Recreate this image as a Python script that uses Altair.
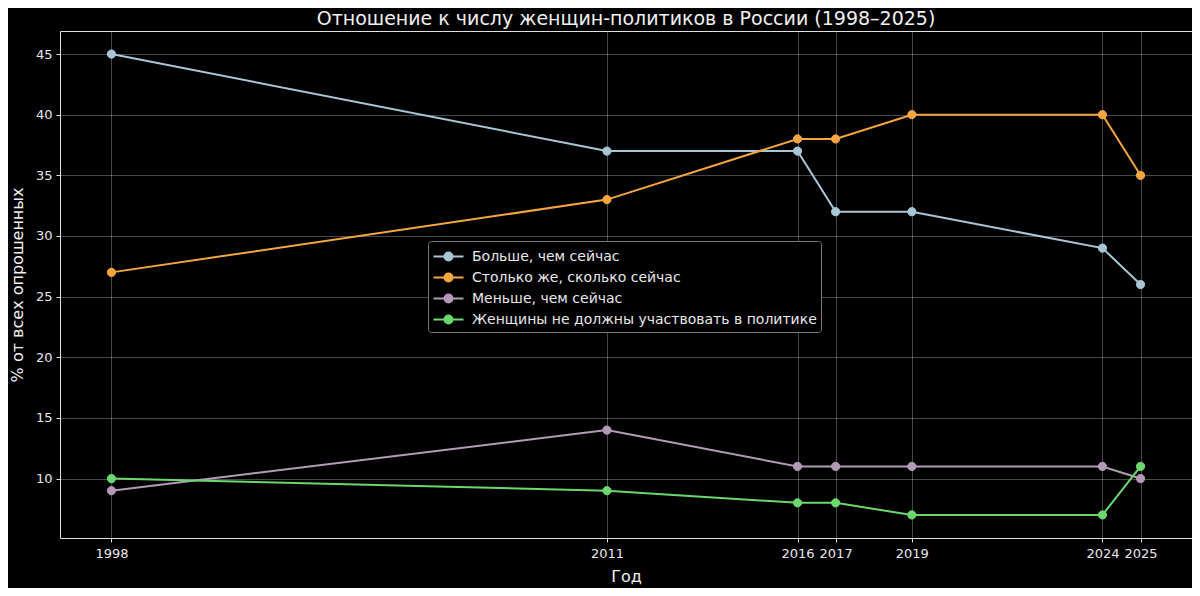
import altair as alt
import pandas as pd

years = [1998, 2011, 2016, 2017, 2019, 2024, 2025]
series_names = [
    "Больше, чем сейчас",
    "Столько же, сколько сейчас",
    "Меньше, чем сейчас",
    "Женщины не должны участвовать в политике",
]
more = [45, 37, 37, 32, 32, 29, 26]
same = [27, 33, 38, 38, 40, 40, 35]
less = [9, 14, 11, 11, 11, 11, 10]
never = [10, 9, 8, 8, 7, 7, 11]
colors = ["#a9c6d4", "#f5a63f", "#b39bb7", "#6bd86f"]
y_ticks = [10, 15, 20, 25, 30, 35, 40, 45]

rows = []
for name, vals in zip(series_names, [more, same, less, never]):
    for yr, v in zip(years, vals):
        rows.append({"Год": yr, "Значение": v, "Серия": name})
df = pd.DataFrame(rows)

# legend glyph: short line with a dot in the middle (scaled by sqrt(symbolSize)/2 = 10.5 px)
legend_path = ("M -1.43 0 L -0.38 0 M 0.38 0 L 1.43 0 "
               "M 0.38 0 A 0.38 0.38 0 1 1 -0.38 0 A 0.38 0.38 0 1 1 0.38 0 Z")

scale = alt.Scale(domain=series_names, range=colors)
legend = alt.Legend(
    title=None,
    orient="none",
    legendX=368,
    legendY=210,
    symbolType=legend_path,
    symbolSize=441,
    symbolStrokeWidth=2,
    symbolOffset=5,
    labelOffset=12,
    labelColor="#e8e8e8",
    labelFontSize=14,
    labelFont="DejaVu Sans",
    labelLimit=500,
    fillColor="#000000",
    strokeColor="#777777",
    padding=4,
    rowPadding=1,
    cornerRadius=3,
)

x = alt.X(
    "Год:Q",
    scale=alt.Scale(domain=[1996.65, 2026.35], nice=False, zero=False),
    axis=alt.Axis(values=years, format="d", title="Год", labelFontSize=13,
                  titleFontSize=16, titlePadding=8, tickSize=4, labelPadding=5),
)
y = alt.Y(
    "Значение:Q",
    scale=alt.Scale(domain=[5.1, 46.9], nice=False, zero=False),
    axis=alt.Axis(values=y_ticks, title="% от всех опрошенных", labelFontSize=13,
                  titleFontSize=16, titlePadding=10, tickSize=4, labelPadding=4),
)

base = alt.Chart(df)
lines = base.mark_line(strokeWidth=2).encode(
    x=x, y=y, color=alt.Color("Серия:N", scale=scale, sort=series_names, legend=None)
)
points = base.mark_point(filled=True, size=68, opacity=1, strokeWidth=1).encode(
    x=x, y=y,
    fill=alt.Fill("Серия:N", scale=scale, sort=series_names, legend=legend),
    stroke=alt.Stroke("Серия:N", scale=scale, sort=series_names, legend=legend),
)

chart = (
    alt.layer(lines, points)
    .resolve_scale(color="independent")
    .properties(
        width=1132,
        height=507,
        title=alt.TitleParams(
            "Отношение к числу женщин-политиков в России (1998–2025)",
            fontSize=19, fontWeight="normal", color="#f0f0f0",
            font="DejaVu Sans", anchor="middle", offset=2,
        ),
        autosize=alt.AutoSizeParams(type="none"),
        padding={"left": 52, "top": 23, "right": 0, "bottom": 50},
        background="#000000",
    )
    .configure_view(stroke="#e0e0e0", strokeWidth=1)
    .configure_axis(
        domain=False,
        gridColor="#ffffff",
        gridOpacity=0.28,
        tickColor="#e0e0e0",
        labelColor="#e8e8e8",
        titleColor="#f0f0f0",
        labelFont="DejaVu Sans",
        titleFont="DejaVu Sans",
        titleFontWeight="normal",
    )
)

chart.save("out.html", embed_options={"renderer": "svg", "actions": False})
